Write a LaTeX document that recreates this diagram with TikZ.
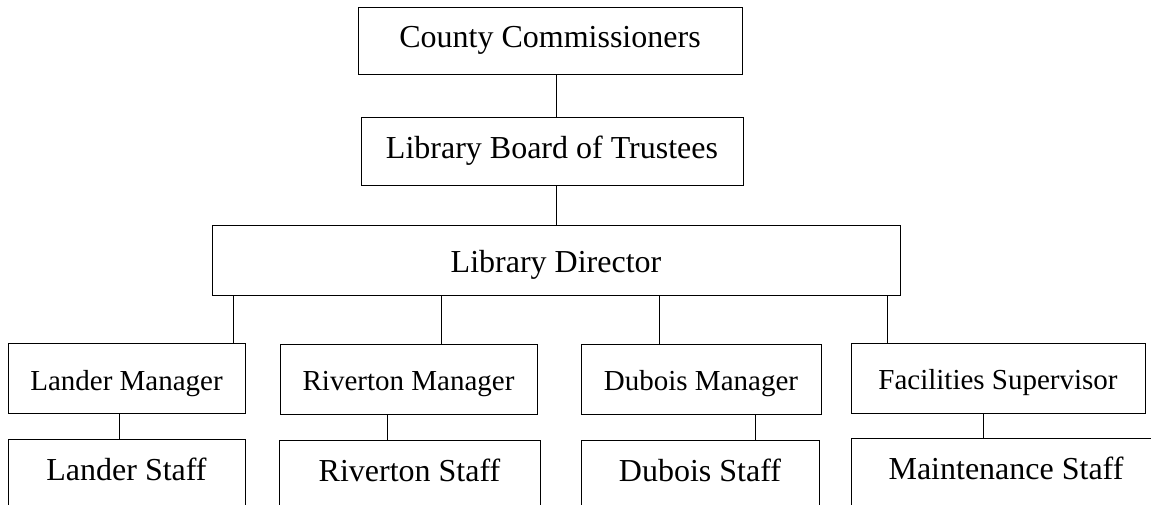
\documentclass[tikz,border=0pt]{standalone}
\usepackage{fontspec}
\setmainfont{Liberation Serif}
\usetikzlibrary{positioning}

\begin{document}
\begin{tikzpicture}[
        x=1pt, y=-1pt,
        node distance=25pt,
        box/.style={draw, rectangle, line width=1pt, minimum height=68pt, font=\fontsize{32}{38}\selectfont},
        mgr/.style={box, minimum height=70pt, text height=30pt, font=\fontsize{29}{35}\selectfont},
        staff/.style={box, minimum height=70pt, text depth=10pt},
        link/.style={line width=1pt}
    ]
    \path[use as bounding box, clip] (0,0) rectangle (1151,504);

    % Top of the chart
    \node[box, minimum width=384pt, minimum height=67pt] (county) at (550,40.5) {County Commissioners};
    \node[box, minimum width=382pt, below=42pt of county, xshift=2pt] (board) {Library Board of Trustees};
    \node[box, minimum width=688pt, minimum height=70pt, text height=32pt, below=39pt of board, xshift=4pt] (director) {Library Director};

    % Managers
    \node[mgr, minimum width=237pt] (lmgr) at (126.5,378.5) {Lander Manager};
    \node[mgr, minimum width=257pt] (rmgr) at (408.5,379) {Riverton Manager};
    \node[mgr, minimum width=240pt] (dmgr) at (701,379) {Dubois Manager};
    \node[mgr, minimum width=294pt] (fsup) at (998,378) {Facilities Supervisor};

    % Staff
    \node[staff, minimum width=237pt, below=of lmgr] (lstaff) {Lander Staff};
    \node[staff, minimum width=261pt, below=of rmgr, xshift=1pt] (rstaff) {Riverton Staff};
    \node[staff, minimum width=238pt, below=of dmgr, xshift=-1pt] (dstaff) {Dubois Staff};
    \node[staff, minimum width=310pt, below=24pt of fsup.south west, anchor=north west] (mstaff) {Maintenance Staff};

    % Taps on the boxes
    \coordinate (tapl) at (233,0);
    \coordinate (tapr) at (441,0);
    \coordinate (tapd) at (659,0);
    \coordinate (tapf) at (887,0);
    \coordinate (subl) at (119,0);
    \coordinate (subr) at (387,0);
    \coordinate (subd) at (755,0);
    \coordinate (subf) at (983,0);

    % Lines
    \draw[link] (county.south -| director.north) -- (board.north -| director.north);
    \draw[link] (board.south -| director.north) -- (director.north);
    \draw[link] (director.south -| tapl) -- (lmgr.north -| tapl);
    \draw[link] (director.south -| tapr) -- (rmgr.north -| tapr);
    \draw[link] (director.south -| tapd) -- (dmgr.north -| tapd);
    \draw[link] (director.south -| tapf) -- (fsup.north -| tapf);
    \draw[link] (lmgr.south -| subl) -- (lstaff.north -| subl);
    \draw[link] (rmgr.south -| subr) -- (rstaff.north -| subr);
    \draw[link] (dmgr.south -| subd) -- (dstaff.north -| subd);
    \draw[link] (fsup.south -| subf) -- (mstaff.north -| subf);
\end{tikzpicture}
\end{document}
